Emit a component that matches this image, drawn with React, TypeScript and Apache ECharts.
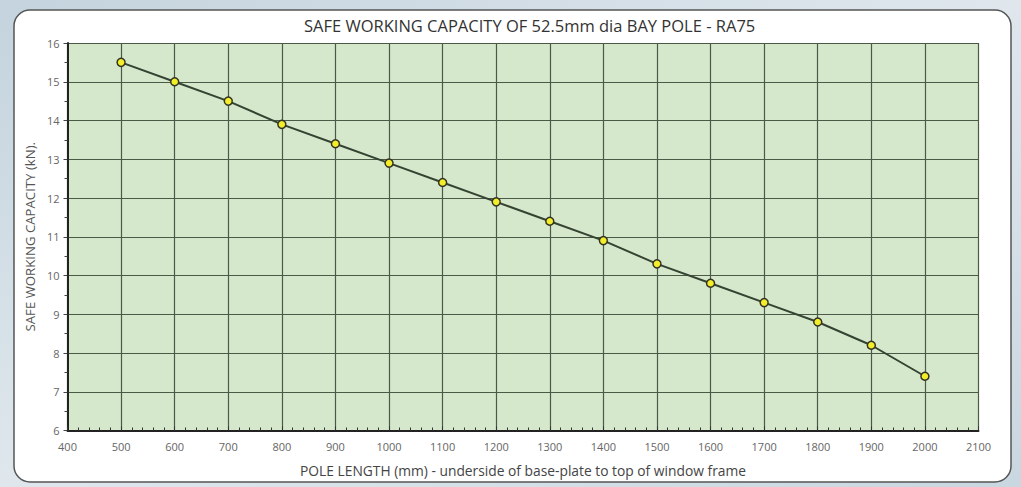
import React, { useEffect, useRef } from "react";
import * as echarts from "echarts";

const poleLengths = [500, 600, 700, 800, 900, 1000, 1100, 1200, 1300, 1400, 1500, 1600, 1700, 1800, 1900, 2000];
const capacities = [15.5, 15.0, 14.5, 13.9, 13.4, 12.9, 12.4, 11.9, 11.4, 10.9, 10.3, 9.8, 9.3, 8.8, 8.2, 7.4];
const titleText = "SAFE WORKING CAPACITY OF 52.5mm dia BAY POLE - RA75";
const xAxisName = "POLE LENGTH (mm) - underside of base-plate to top of window frame";
const yAxisName = "SAFE WORKING CAPACITY (kN).";

export default function App() {
  const ref = useRef<HTMLDivElement>(null);
  useEffect(() => {
    if (!ref.current) return;
    const chart = echarts.init(ref.current, undefined, { renderer: "svg" });
    const font = "'Open Sans', 'Noto Sans', sans-serif";
    chart.setOption({
      animation: false,
      backgroundColor: {
        type: "linear", x: 0, y: 0, x2: 1, y2: 1,
        colorStops: [
          { offset: 0, color: "#c4d3dd" },
          { offset: 0.5, color: "#dfe7ed" },
          { offset: 1, color: "#c9d7e0" },
        ],
      },
      graphic: [
        {
          type: "rect",
          z: -10,
          silent: true,
          shape: { x: 14, y: 10, width: 997, height: 472, r: 16 },
          style: { fill: "#ffffff", stroke: "#555555", lineWidth: 1.5 },
        },
      ],
      title: {
        text: titleText,
        left: 299,
        top: 12,
        textStyle: { fontFamily: font, fontSize: 16.5, fontWeight: "normal", color: "#333333" },
      },
      grid: {
        left: 67.5,
        right: 42.5,
        top: 43,
        bottom: 56.5,
        show: true,
        backgroundColor: "#d5e8cc",
        borderWidth: 0,
      },
      xAxis: {
        type: "value",
        min: 400,
        max: 2100,
        interval: 100,
        name: xAxisName,
        nameLocation: "middle",
        nameGap: 33,
        nameTextStyle: { fontFamily: font, fontSize: 13.8, color: "#444444" },
        axisLine: { show: true, onZero: false, lineStyle: { color: "#222222", width: 2 } },
        axisTick: { show: true, length: -4, lineStyle: { color: "#333333" } },
        minorTick: { show: true, splitNumber: 5, length: -3, lineStyle: { color: "#333333" } },
        axisLabel: { fontFamily: font, fontSize: 11, color: "#666666", margin: 10, formatter: (v: number) => String(v) },
        splitLine: { show: true, lineStyle: { color: "#4a5a47", width: 1.2 } },
      },
      yAxis: {
        type: "value",
        min: 6,
        max: 16,
        interval: 1,
        name: yAxisName,
        nameLocation: "middle",
        nameGap: 27,
        nameTextStyle: { fontFamily: font, fontSize: 13.2, color: "#555555" },
        axisLine: { show: true, onZero: false, lineStyle: { color: "#222222", width: 2 } },
        axisTick: { show: true, length: 4, lineStyle: { color: "#444444" } },
        minorTick: { show: true, splitNumber: 2, length: 3, lineStyle: { color: "#444444" } },
        axisLabel: { fontFamily: font, fontSize: 11, color: "#666666", margin: 8 },
        splitLine: { show: true, lineStyle: { color: "#4a5a47", width: 1.2 } },
      },
      series: [
        {
          type: "line",
          data: poleLengths.map((x, i) => [x, capacities[i]]),
          symbol: "circle",
          symbolSize: 8,
          lineStyle: { color: "#354432", width: 2 },
          itemStyle: { color: "#f3ee2a", borderColor: "#333322", borderWidth: 1.5 },
          z: 5,
        },
      ],
    });
    return () => chart.dispose();
  }, []);
  return (
    <div
      ref={ref}
      style={{ position: "fixed", left: 0, top: 0, width: 1021, height: 487 }}
    />
  );
}
